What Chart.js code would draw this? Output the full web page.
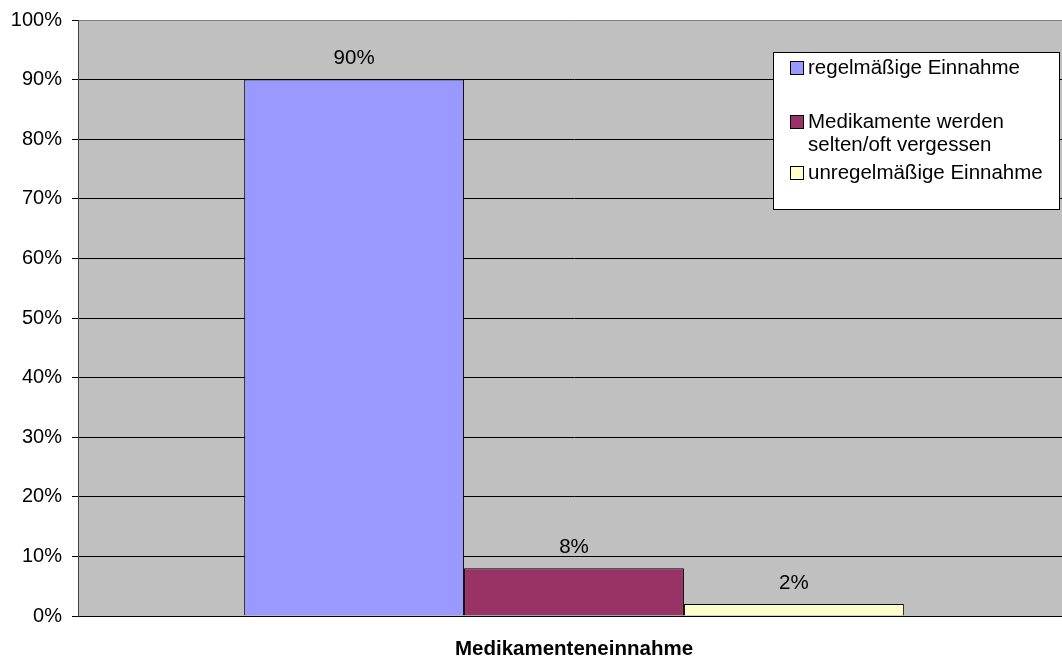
<!DOCTYPE html>
<html>
<head>
<meta charset="utf-8">
<script src="https://cdn.jsdelivr.net/npm/chart.js@4"></script>
<style>
html, body { margin: 0; padding: 0; background: #fff; overflow: hidden; }
#wrap { width: 1062px; height: 657px; overflow: hidden; }
</style>
</head>
<body>
<div id="wrap"><canvas id="myChart" width="1070" height="657"></canvas></div>
<script>
// daten
const kategorien = ["Medikamenteneinnahme"];
const serienNamen = ["regelmäßige Einnahme", "Medikamente werden selten/oft vergessen", "unregelmäßige Einnahme"];
const legendeZeilen = [["regelmäßige Einnahme"], ["Medikamente werden", "selten/oft vergessen"], ["unregelmäßige Einnahme"]];
const werte = [90, 8, 2];
const farben = ["#9999FF", "#993366", "#FFFFCC"];

const schrift = "'Liberation Sans', Arial, sans-serif";
const groesse = 20.5;

const hintergrund = {
    id: "hintergrund",
    beforeDraw(chart) {
        const { ctx, chartArea: a } = chart;
        ctx.save();
        ctx.fillStyle = "#fff";
        ctx.fillRect(0, 0, chart.width, chart.height);
        ctx.fillStyle = "#C0C0C0";
        ctx.fillRect(a.left, a.top, a.right - a.left, a.bottom - a.top);
        ctx.restore();
    }
};

const werteBeschriftung = {
    id: "werteBeschriftung",
    afterDatasetsDraw(chart) {
        const ctx = chart.ctx;
        ctx.save();
        ctx.font = groesse + "px " + schrift;
        ctx.fillStyle = "#000";
        ctx.textAlign = "center";
        ctx.textBaseline = "middle";
        chart.data.datasets.forEach((ds, i) => {
            const bar = chart.getDatasetMeta(i).data[0];
            ctx.fillText(ds.data[0] + "%", bar.x, bar.y - 21);
        });
        ctx.restore();
    }
};

// eigene legende, weil zweizeilige eintraege
const legende = {
    id: "legende",
    afterDraw(chart) {
        const ctx = chart.ctx;
        const x = 773.5, y = 52.5, w = 286, h = 157;
        ctx.save();
        ctx.fillStyle = "#fff";
        ctx.fillRect(x, y, w, h);
        ctx.strokeStyle = "#000";
        ctx.lineWidth = 1;
        ctx.strokeRect(x, y, w, h);
        ctx.font = groesse + "px " + schrift;
        ctx.textBaseline = "middle";
        ctx.textAlign = "left";
        const zeilenY = [68, 122, 173];
        legendeZeilen.forEach((zeilen, i) => {
            const yy = zeilenY[i];
            ctx.fillStyle = farben[i];
            ctx.fillRect(790.5, yy - 6.5, 13, 13);
            ctx.strokeStyle = "#000";
            ctx.strokeRect(790.5, yy - 6.5, 13, 13);
            ctx.fillStyle = "#000";
            zeilen.forEach((t, j) => {
                ctx.fillText(t, 808, yy + j * 23);
            });
        });
        ctx.restore();
    }
};

const data = {
    labels: kategorien,
    datasets: serienNamen.map((name, i) => ({
        label: name,
        data: [werte[i]],
        backgroundColor: farben[i],
        borderColor: "#000",
        borderWidth: 1,
        categoryPercentage: 0.665,
        barPercentage: 1
    }))
};

const config = {
    type: "bar",
    data,
    options: {
        responsive: false,
        animation: false,
        layout: { padding: { top: 20, right: 0, left: 0, bottom: 0 } },
        plugins: {
            legend: { display: false },
            tooltip: { enabled: false }
        },
        scales: {
            x: {
                grid: { display: false, drawTicks: false },
                border: { color: "#000", width: 1 },
                ticks: {
                    color: "#000",
                    padding: 21,
                    font: { family: schrift, size: groesse, weight: "bold" }
                },
                afterFit(scale) { scale.height = 41; }
            },
            y: {
                min: 0,
                max: 100,
                ticks: {
                    stepSize: 10,
                    color: "#000",
                    padding: 10,
                    font: { family: schrift, size: 20 },
                    callback: v => v + "%"
                },
                grid: {
                    color: c => (c.tick && c.tick.value === 100 ? "#808080" : "#000"),
                    tickColor: "#000",
                    tickLength: 6,
                    lineWidth: 1
                },
                border: { color: "#404040", width: 1 },
                afterFit(scale) {
                    scale.width = 78;
                    scale.paddingTop = 0;
                    scale.paddingBottom = 0;
                }
            }
        }
    },
    plugins: [hintergrund, werteBeschriftung, legende]
};

const myChart = new Chart(document.getElementById("myChart"), config);
</script>
</body>
</html>
